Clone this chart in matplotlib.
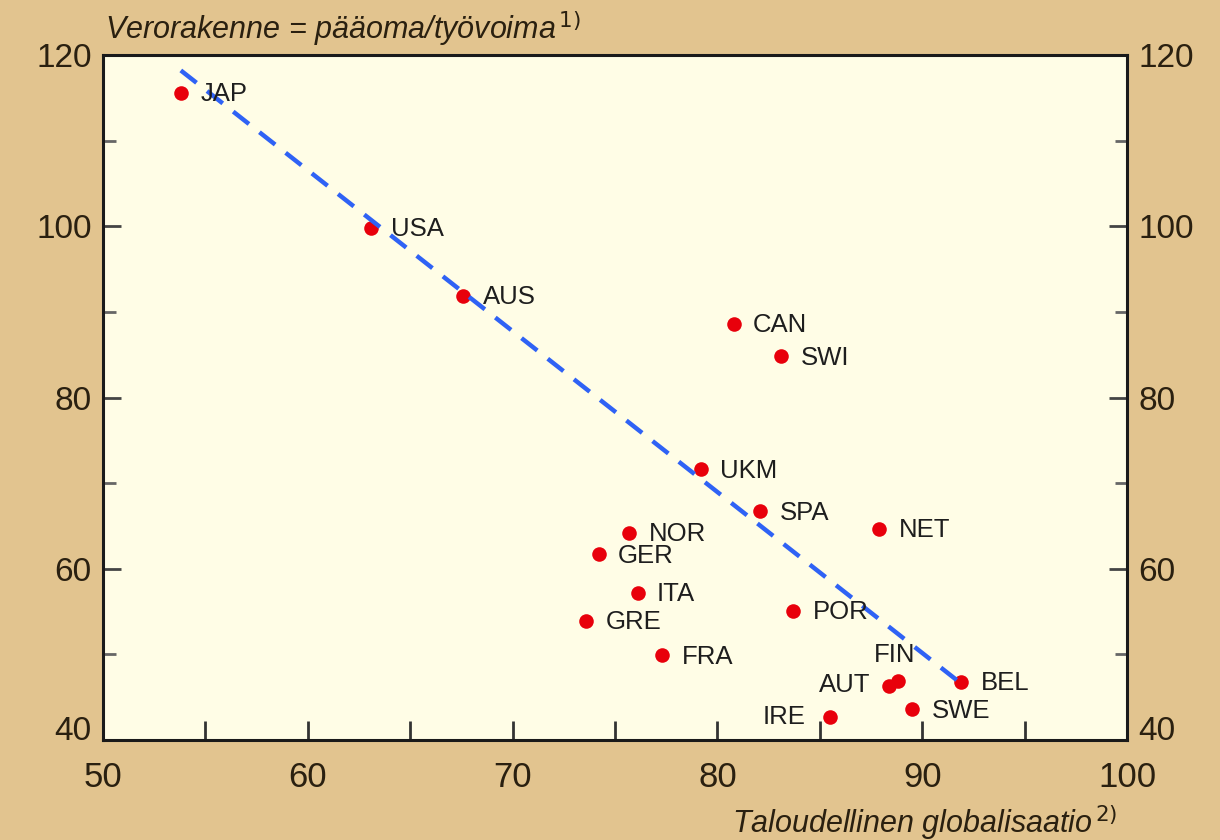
import matplotlib.pyplot as plt
from matplotlib.ticker import MultipleLocator
import matplotlib.transforms as mtransforms

countries = ['JAP', 'USA', 'AUS', 'CAN', 'SWI', 'UKM', 'SPA', 'NET', 'NOR', 'GER',
             'ITA', 'GRE', 'POR', 'FRA', 'FIN', 'AUT', 'BEL', 'SWE', 'IRE']
globalisaatio = [53.8, 63.1, 67.6, 80.8, 83.1, 79.2, 82.1, 87.9, 75.7, 74.2,
                 76.1, 73.6, 83.7, 77.3, 88.8, 88.4, 91.9, 89.5, 85.5]
verorakenne = [115.6, 99.8, 91.9, 88.6, 84.8, 71.6, 66.7, 64.7, 64.2, 61.7,
               57.2, 53.9, 55.1, 49.9, 46.9, 46.3, 46.8, 43.6, 42.7]

trend_x = [53.8, 91.9]
trend_y = [118.2, 46.6]

# label offsets (points) and alignment
offsets = {'FIN': (-2, 10, 'center', 'bottom'),
           'AUT': (-14, 1, 'right', 'center'),
           'IRE': (-18, 0, 'right', 'center')}

bg = '#E2C48F'
fig = plt.figure(figsize=(12.2, 8.4), dpi=100, facecolor=bg)
ax = fig.add_axes([0.0844, 0.119, 0.8394, 0.8155])
ax.set_facecolor('#FFFDE6')

ax.plot(trend_x, trend_y, color='#2F62F5', lw=3.2, ls=(0, (4.5, 3)), zorder=3)
ax.scatter(globalisaatio, verorakenne, s=110, color='#E8000B', zorder=2, linewidths=0)

for c, x, y in zip(countries, globalisaatio, verorakenne):
    dx, dy, ha, va = offsets.get(c, (14, -1, 'left', 'center'))
    ax.annotate(c, (x, y), xytext=(dx, dy), textcoords='offset points',
                ha=ha, va=va, fontsize=18.5, color='#1e1e1e', family='Liberation Sans',
                zorder=4)

ax.set_xlim(50, 100)
ax.set_ylim(40, 120)
ax.xaxis.set_major_locator(MultipleLocator(10))
ax.xaxis.set_minor_locator(MultipleLocator(5))
ax.yaxis.set_major_locator(MultipleLocator(20))
ax.yaxis.set_minor_locator(MultipleLocator(10))

ax.tick_params(axis='x', which='both', direction='in', length=14, width=2,
               color='#333333', pad=15, labelsize=25, labelcolor='#2a2010')
ax.tick_params(axis='y', which='major', direction='in', length=13, width=2,
               color='#444444', left=True, right=True, labelleft=True, labelright=True,
               labelsize=24, labelcolor='#2a2010', pad=8)
ax.tick_params(axis='y', which='minor', direction='in', length=9, width=2,
               color='#666666', left=True, right=True)
for lab in ax.get_xticklabels() + ax.get_yticklabels():
    lab.set_family('Liberation Sans')

for s in ax.spines.values():
    s.set_linewidth(2.2)
    s.set_color('#1a1a1a')

# lift the "40" labels a bit, as in the original
fig.canvas.draw()
shift = mtransforms.ScaledTranslation(0, 12 / 100, fig.dpi_scale_trans)
for tick in ax.yaxis.get_major_ticks():
    if abs(tick.get_loc() - 40) < 0.01:
        tick.label1.set_transform(tick.label1.get_transform() + shift)
        tick.label2.set_transform(tick.label2.get_transform() + shift)

fig.text(0.086, 0.966, 'Verorakenne = pääoma/työvoima$^{\\,1)}$', fontsize=22,
         style='italic', family='Liberation Sans', color='#2a2010', va='center')
fig.text(0.916, 0.021, 'Taloudellinen globalisaatio$^{\\,2)}$', fontsize=22,
         style='italic', family='Liberation Sans', color='#2a2010', ha='right', va='center')

fig.savefig('out.png', dpi=100, facecolor=bg)
